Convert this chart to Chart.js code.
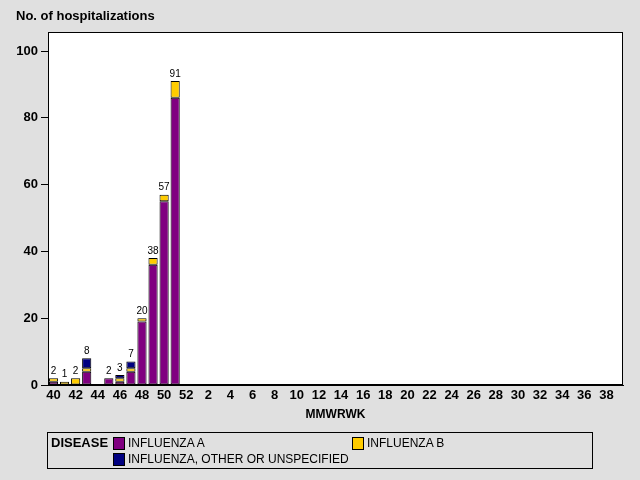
<!DOCTYPE html>
<html>
<head>
<meta charset="utf-8">
<script src="https://cdn.jsdelivr.net/npm/chart.js@4/dist/chart.umd.min.js"></script>
<style>
  html, body { margin: 0; padding: 0; background: #e0e0e0; }
  #wrap { position: relative; width: 640px; height: 480px; font-family: "Liberation Sans", Arial, sans-serif; }
  canvas { position: absolute; left: 0; top: 0; }
  #ytitle { position: absolute; left: 16px; top: 8px; font-weight: bold; font-size: 13px; color: #000; }
  #legend { position: absolute; left: 47px; top: 432px; width: 546px; height: 37px; border: 1px solid #000; box-sizing: border-box; font-size: 12px; color: #000; }
  .lg { position: absolute; white-space: nowrap; }
  .sw { position: absolute; width: 10px; height: 11px; border: 1px solid #000; }
</style>
</head>
<body>
<div id="wrap">
  <canvas id="c" width="640" height="480"></canvas>
  <div id="ytitle">No. of hospitalizations</div>
  <div id="legend"></div>
</div>
<script>
const weeks = ["40","41","42","43","44","45","46","47","48","49","50","51","52",
  "1","2","3","4","5","6","7","8","9","10","11","12","13","14","15","16","17","18","19",
  "20","21","22","23","24","25","26","27","28","29","30","31","32","33","34","35","36","37","38","39"];
const fluA     = [1,0,0,4,0,2,1,4,19,36,55,86];
const fluB     = [1,1,2,1,0,0,1,1,1,2,2,5];
const fluOther = [0,0,0,3,0,0,1,2,0,0,0,0];
const seriesNames = ["INFLUENZA A", "INFLUENZA B", "INFLUENZA, OTHER OR UNSPECIFIED"];
const seriesColors = ["#800080", "#ffcc00", "#000080"];
const yTicks = [0, 20, 40, 60, 80, 100];

function pad(arr) {
  return weeks.map((w, i) => (i < arr.length && arr[i] > 0) ? arr[i] : null);
}

const allSeries = [fluA, fluB, fluOther];
const datasets = allSeries.map((arr, k) => ({
  label: seriesNames[k],
  data: pad(arr),
  backgroundColor: seriesColors[k],
  borderColor: "#000",
  borderWidth: 1,
  borderSkipped: false,
  barPercentage: 0.83,
  categoryPercentage: 1.0
}));

const bgPlugin = {
  id: "bg",
  beforeDraw(chart) {
    const { ctx, chartArea: a } = chart;
    ctx.save();
    ctx.fillStyle = "#e0e0e0";
    ctx.fillRect(0, 0, chart.width, chart.height);
    ctx.fillStyle = "#fff";
    ctx.fillRect(a.left, a.top, a.right - a.left, a.bottom - a.top);
    ctx.restore();
  },
  afterDraw(chart) {
    const { ctx, chartArea: a } = chart;
    ctx.save();
    ctx.strokeStyle = "#000";
    ctx.lineWidth = 1;
    ctx.strokeRect(Math.round(a.left) + 0.5, Math.round(a.top) + 0.5, Math.round(a.right - a.left) - 1, Math.round(a.bottom - a.top) - 1);
    ctx.restore();
  }
};

const labelPlugin = {
  id: "totals",
  afterDatasetsDraw(chart) {
    const { ctx } = chart;
    const xs = chart.scales.x, ys = chart.scales.y;
    ctx.save();
    ctx.font = "10px 'Liberation Sans', Arial, sans-serif";
    ctx.fillStyle = "#000";
    ctx.textAlign = "center";
    ctx.textBaseline = "bottom";
    weeks.forEach((w, i) => {
      let t = 0;
      allSeries.forEach(s => { t += (s[i] || 0); });
      if (t > 0) {
        ctx.fillText(String(t), xs.getPixelForValue(i), ys.getPixelForValue(t) - 2);
      }
    });
    ctx.restore();
  }
};

new Chart(document.getElementById("c"), {
  type: "bar",
  data: { labels: weeks, datasets },
  plugins: [bgPlugin, labelPlugin],
  options: {
    responsive: false,
    animation: false,
    layout: { padding: { left: 16, right: 17, top: 32, bottom: 55 } },
    plugins: { legend: { display: false }, tooltip: { enabled: false }, title: { display: false } },
    scales: {
      x: {
        stacked: true,
        grid: { display: false, drawTicks: false },
        border: { display: true, color: "#000" },
        afterFit(s) { s.height = 40; },
        ticks: {
          autoSkip: false, maxRotation: 0, minRotation: 0, padding: 3,
          color: "#000",
          font: { family: "'Liberation Sans', Arial, sans-serif", size: 13, weight: "bold" },
          callback(v, i) { return i % 2 === 0 ? weeks[i] : ""; }
        },
        title: {
          display: true, text: "MMWRWK", color: "#000", padding: { top: 2, bottom: 3 },
          font: { family: "'Liberation Sans', Arial, sans-serif", size: 12, weight: "bold" }
        }
      },
      y: {
        stacked: true,
        min: 0, max: 105.7,
        afterFit(s) { s.width = 32; },
        afterBuildTicks(s) { s.ticks = yTicks.map(v => ({ value: v })); },
        grid: { display: true, drawOnChartArea: false, drawTicks: true, tickLength: 7, color: "#000" },
        border: { display: true, color: "#000" },
        ticks: {
          color: "#000", padding: 3,
          font: { family: "'Liberation Sans', Arial, sans-serif", size: 13, weight: "bold" }
        }
      }
    }
  }
});

// Legend
const lg = document.getElementById("legend");
function add(html, left, top, cls, style) {
  const d = document.createElement("div");
  d.className = cls;
  d.style.left = left + "px"; d.style.top = top + "px";
  if (style) Object.assign(d.style, style);
  d.textContent = html;
  lg.appendChild(d);
}
add("DISEASE", 3, 2, "lg", { fontWeight: "bold", fontSize: "13px" });
const pos = [[65, 3], [304, 3], [65, 19]];
seriesNames.forEach((n, k) => {
  add("", pos[k][0], pos[k][1] + 1, "sw", { background: seriesColors[k] });
  add(n, pos[k][0] + 15, pos[k][1], "lg");
});
</script>
</body>
</html>
